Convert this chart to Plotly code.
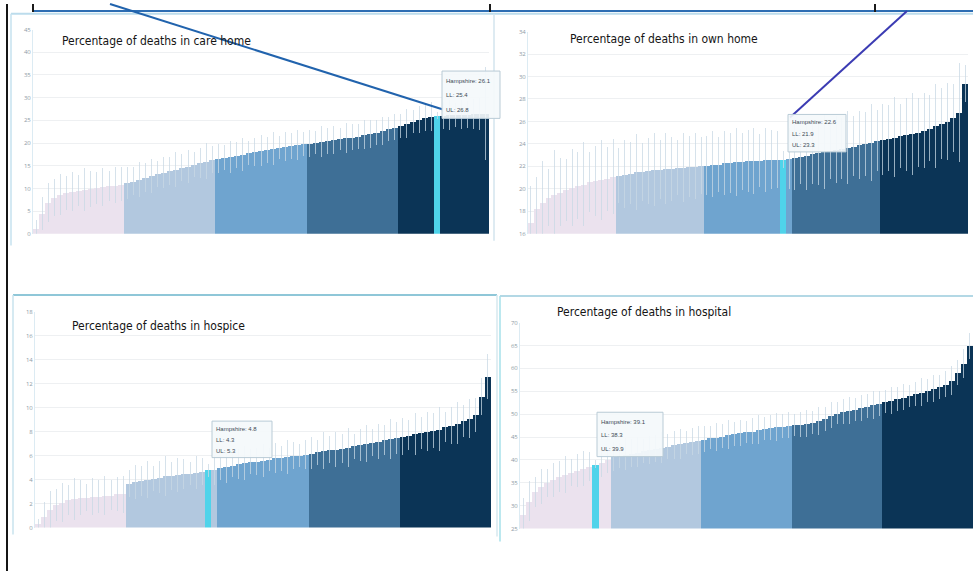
import plotly.graph_objects as go

W, H = 973, 575

# ---- data: local authorities ranked by percentage of deaths, per place of death ----
care_home = [1.2, 4.5, 6.8, 8.0, 8.6, 9.0, 9.3, 9.5, 9.7, 9.9, 10.1, 10.3, 10.5, 10.7, 10.9,
             11.2, 11.6, 12.0, 12.4, 12.8, 13.2, 13.5, 13.9, 14.2, 14.6, 14.9, 15.3, 15.6, 16.0, 16.3,
             16.5, 16.8, 17.0, 17.3, 17.5, 17.8, 18.0, 18.3, 18.5, 18.8, 19.0, 19.2, 19.4, 19.6, 19.8,
             19.9, 20.1, 20.3, 20.5, 20.7, 20.9, 21.1, 21.3, 21.5, 21.8, 22.0, 22.3, 22.7, 23.1, 23.5,
             23.8, 24.3, 24.8, 25.2, 25.5, 25.8, 26.1, 26.1, 26.2, 26.2, 26.3, 26.3, 26.4, 26.4, 26.5]
care_home_ci = [1.8, 3.5, 4.2, 3.9, 4.4, 3.6, 4.1, 3.3, 4.6, 3.8, 3.5, 4.0, 3.2, 3.9, 3.6,
                3.4, 2.9, 3.8, 3.1, 3.6, 2.7, 3.3, 3.0, 3.7, 2.8, 3.5, 2.6, 3.2, 3.9, 2.9,
                3.1, 2.6, 3.4, 2.8, 3.6, 2.5, 3.0, 3.3, 2.7, 3.5, 2.4, 3.1, 2.8, 3.2, 2.6,
                2.9, 2.5, 3.3, 2.7, 3.0, 2.4, 3.2, 2.8, 2.6, 3.1, 2.9, 2.7, 3.0, 2.5, 2.8,
                2.6, 3.0, 2.4, 2.9, 2.7, 3.1, 0.7, 2.8, 3.2, 2.6, 3.0, 2.9, 3.3, 3.5, 10.2]

own_home = [17.0, 18.2, 18.8, 19.2, 19.5, 19.7, 19.9, 20.1, 20.3, 20.4, 20.6, 20.7, 20.8, 20.9, 21.1,
            21.2, 21.3, 21.4, 21.5, 21.5, 21.6, 21.7, 21.7, 21.8, 21.8, 21.9, 21.9, 22.0, 22.0, 22.1,
            22.1, 22.2, 22.2, 22.3, 22.3, 22.4, 22.4, 22.5, 22.5, 22.5, 22.6, 22.6, 22.6, 22.6, 22.7,
            22.8, 22.9, 23.0, 23.1, 23.2, 23.3, 23.4, 23.5, 23.6, 23.7, 23.8, 23.9, 24.0, 24.1, 24.3,
            24.4, 24.5, 24.6, 24.7, 24.8, 24.9, 25.0, 25.2, 25.4, 25.6, 25.8, 26.0, 26.3, 26.8, 29.4]
own_home_ci = [3.2, 2.8, 3.6, 2.5, 3.9, 3.0, 2.7, 3.4, 2.9, 3.7, 2.6, 3.1, 3.5, 2.8, 3.3,
               2.4, 3.0, 2.7, 3.3, 2.5, 2.9, 3.2, 2.6, 3.1, 2.8, 2.4, 3.0, 2.7, 2.9, 2.5,
               2.6, 2.9, 2.4, 2.8, 2.6, 3.0, 2.5, 2.7, 2.9, 2.3, 2.8, 2.6, 2.5, 0.7, 2.7,
               2.9, 2.4, 3.1, 2.6, 2.8, 3.3, 2.5, 2.9, 2.7, 3.2, 2.6, 3.0, 2.8, 3.4, 2.7,
               3.1, 2.9, 3.5, 2.8, 3.2, 3.6, 3.0, 3.3, 2.9, 3.7, 3.1, 3.4, 3.0, 4.4, 1.6]

hospice = [0.3, 0.9, 1.5, 1.9, 2.1, 2.3, 2.4, 2.5, 2.5, 2.6, 2.6, 2.7, 2.7, 2.8, 2.8,
           3.7, 3.8, 3.9, 4.0, 4.1, 4.2, 4.3, 4.3, 4.4, 4.5, 4.5, 4.6, 4.7, 4.8, 4.8,
           5.0, 5.1, 5.2, 5.3, 5.4, 5.5, 5.5, 5.6, 5.7, 5.8, 5.8, 5.9, 6.0, 6.0, 6.1,
           6.2, 6.3, 6.4, 6.5, 6.5, 6.6, 6.7, 6.8, 6.9, 7.0, 7.1, 7.2, 7.3, 7.4, 7.5,
           7.6, 7.7, 7.8, 7.9, 8.0, 8.1, 8.2, 8.4, 8.5, 8.7, 8.9, 9.1, 9.4, 10.9, 12.6]
hospice_ci = [0.4, 1.2, 1.5, 1.3, 1.6, 1.2, 1.7, 1.4, 1.1, 1.5, 1.3, 1.6, 1.2, 1.4, 1.5,
              1.1, 1.4, 1.2, 1.5, 1.0, 1.3, 1.6, 1.1, 1.4, 1.2, 0.9, 1.3, 1.1, 0.5, 1.2,
              1.0, 1.3, 0.9, 1.2, 1.4, 1.0, 1.1, 1.3, 0.9, 1.2, 1.0, 1.4, 1.1, 0.9, 1.2,
              1.3, 1.0, 1.5, 1.1, 1.4, 1.2, 1.6, 1.0, 1.3, 1.5, 1.1, 1.4, 1.2, 1.6, 1.3,
              1.5, 1.2, 1.7, 1.3, 1.6, 1.4, 1.8, 1.2, 1.5, 1.7, 1.3, 1.6, 1.4, 1.5, 1.8]

hospital = [28.0, 31.0, 33.0, 34.2, 35.0, 35.7, 36.3, 36.8, 37.3, 37.7, 38.2, 38.6, 39.1, 39.5, 40.0,
            40.8, 41.0, 41.2, 41.5, 41.7, 42.0, 42.2, 42.5, 42.7, 43.0, 43.3, 43.5, 43.8, 44.0, 44.3,
            44.5, 44.8, 45.0, 45.2, 45.5, 45.7, 45.9, 46.1, 46.3, 46.6, 46.8, 47.0, 47.2, 47.4, 47.6,
            47.7, 47.8, 48.0, 48.2, 48.5, 49.0, 49.8, 50.2, 50.5, 50.8, 51.1, 51.4, 51.7, 52.0, 52.4,
            52.7, 53.0, 53.3, 53.7, 54.0, 54.4, 54.8, 55.2, 55.6, 56.0, 56.5, 57.3, 59.0, 61.0, 64.9]
hospital_ci = [3.5, 4.2, 3.1, 3.8, 2.9, 3.6, 3.3, 4.0, 2.8, 3.4, 3.7, 3.0, 0.8, 3.2, 2.7,
               3.1, 2.6, 3.4, 2.9, 3.2, 2.5, 3.0, 2.8, 3.3, 2.6, 2.9, 3.1, 2.4, 2.8, 3.0,
               2.7, 2.4, 2.9, 2.6, 3.1, 2.5, 2.8, 2.3, 2.7, 3.0, 2.4, 2.6, 2.9, 2.5, 2.7,
               2.3, 2.6, 2.8, 2.4, 2.9, 2.5, 2.7, 2.3, 2.6, 2.8, 2.4, 2.7, 2.5, 2.9, 2.6,
               2.4, 2.8, 2.5, 2.7, 2.3, 2.6, 2.9, 2.4, 2.8, 2.5, 2.7, 3.0, 2.6, 3.1, 2.8]

# rank of the highlighted authority in each sorted list
hampshire_rank = {"care": 66, "own": 43, "hospice": 28, "hospital": 12}

titles = {"care": "Percentage of deaths in care home",
          "own": "Percentage of deaths in own home",
          "hospice": "Percentage of deaths in hospice",
          "hospital": "Percentage of deaths in hospital"}

quintile_colors = ["#ebe2ee", "#b2c8df", "#6fa4cf", "#3e6f96", "#0b3456"]
highlight_color = "#4fd3ea"

# ---- layout helpers (pixel -> paper) ----
def fx(x):
    return x / W

def fy(y):
    return 1 - y / H

# panel geometry: (x0, x1, y_top, y_bottom), y range, tick step
panels = {
    "care":     dict(box=(33, 489, 26, 233), yr=(0, 45), dt=5, vals=care_home, ci=care_home_ci),
    "own":      dict(box=(528, 968, 28, 233), yr=(16, 34), dt=2, vals=own_home, ci=own_home_ci),
    "hospice":  dict(box=(35, 491, 312, 531), yr=(0, 18), dt=2, vals=hospice, ci=hospice_ci),
    "hospital": dict(box=(520, 973, 323, 532), yr=(25, 70), dt=5, vals=hospital, ci=hospital_ci),
}

fig = go.Figure()
layout_axes = {}
for k, (name, p) in enumerate(panels.items(), start=1):
    vals, ci = p["vals"], p["ci"]
    n = len(vals)
    colors = [quintile_colors[i * 5 // n] for i in range(n)]
    colors[hampshire_rank[name]] = highlight_color
    xa = "x" if k == 1 else f"x{k}"
    ya = "y" if k == 1 else f"y{k}"
    fig.add_trace(go.Bar(
        x=list(range(n)), y=vals, xaxis=xa, yaxis=ya,
        marker=dict(color=colors, line=dict(width=0)),
        error_y=dict(type="data", array=ci, visible=True,
                     color="rgba(200,216,228,0.75)", thickness=1, width=0.5),
        showlegend=False, hoverinfo="y",
    ))
    x0, x1, yt, yb = p["box"]
    xkey = "xaxis" if k == 1 else f"xaxis{k}"
    ykey = "yaxis" if k == 1 else f"yaxis{k}"
    layout_axes[xkey] = dict(domain=[fx(x0), fx(x1)], range=[-0.5, n - 0.5],
                             showticklabels=False, showgrid=False, zeroline=False,
                             anchor=ya, fixedrange=True)
    layout_axes[ykey] = dict(domain=[fy(yb), fy(yt)], range=list(p["yr"]), dtick=p["dt"],
                             tick0=p["yr"][0], showgrid=True, gridcolor="#eef0f2", gridwidth=1,
                             zeroline=False, showline=True, linecolor="#dcebf3", linewidth=1,
                             tickfont=dict(size=6, color="#8e9ba6"), ticks="",
                             anchor=xa, fixedrange=True)

fig.update_layout(
    width=W, height=H, margin=dict(l=0, r=0, t=0, b=0),
    paper_bgcolor="white", plot_bgcolor="white", bargap=0,
    **layout_axes,
)

shapes = []
def line(x0, y0, x1, y1, color, width=1):
    shapes.append(dict(type="line", xref="paper", yref="paper",
                       x0=fx(x0), y0=fy(y0), x1=fx(x1), y1=fy(y1),
                       line=dict(color=color, width=width)))

# outer frame pieces and banner strip
line(7, 0, 7, 575, "#151515", 2)
line(33, 7, 973, 7, "#2d6db3", 2)
for xv in (33, 490, 875):
    line(xv, 0, xv, 8, "#1b1b1b", 2)
line(11, 10, 973, 10, "#bcdcec", 2)
# panel borders
line(11, 10, 11, 245, "#c6e2ef", 1.5)
line(494, 10, 494, 240, "#d3e5ee", 1.5)
line(13, 295, 497, 295, "#8fc7d8", 2)
line(13, 295, 13, 538, "#c8e3ee", 1.5)
line(497, 295, 497, 540, "#d6e8ef", 1.5)
line(500, 296, 973, 296, "#b3d8e5", 2)
line(500, 296, 500, 545, "#a6e0ea", 1.5)
# leader lines from the banner to the highlighted bars
line(110, 0, 443, 107, "#2163ad", 2)
line(907, 7, 790, 115, "#3b3bb3", 2)

annotations = []
title_pos = {"care": (60, 38), "own": (568, 35), "hospice": (70, 327), "hospital": (555, 312)}
for name, (tx, ty) in title_pos.items():
    annotations.append(dict(text=titles[name], xref="paper", yref="paper",
                            x=fx(tx), y=fy(ty), xanchor="left", yanchor="middle",
                            showarrow=False,
                            font=dict(family="Liberation Sans Narrow, DejaVu Sans Condensed, Arial Narrow, sans-serif",
                                      size=12, color="#151515")))

# value boxes for the highlighted authority: (box x0, y0, x1, y1)
boxes = {"care": (442, 68, 500, 116), "own": (788, 112, 846, 150),
         "hospice": (212, 423, 272, 460), "hospital": (597, 414, 663, 459)}
for name, (bx0, by0, bx1, by1) in boxes.items():
    p = panels[name]
    i = hampshire_rank[name]
    v, c = p["vals"][i], p["ci"][i]
    shapes.append(dict(type="rect", xref="paper", yref="paper",
                       x0=fx(bx0), y0=fy(by0), x1=fx(bx1), y1=fy(by1),
                       fillcolor="rgba(244,249,251,0.92)",
                       line=dict(color="#b9cbd6", width=1)))
    lines_txt = [f"Hampshire: {v:.1f}", f"LL: {v - c:.1f}", f"UL: {v + c:.1f}"]
    step = (by1 - by0) / 3.3
    for j, t in enumerate(lines_txt):
        annotations.append(dict(text=t, xref="paper", yref="paper",
                                x=fx(bx0 + 2), y=fy(by0 + step * (j + 0.7)),
                                xanchor="left", yanchor="middle", showarrow=False,
                                font=dict(family="Liberation Sans, Arial, sans-serif",
                                          size=6, color="#3c4a55")))

fig.update_layout(shapes=shapes, annotations=annotations)
fig.write_html("out.html")
